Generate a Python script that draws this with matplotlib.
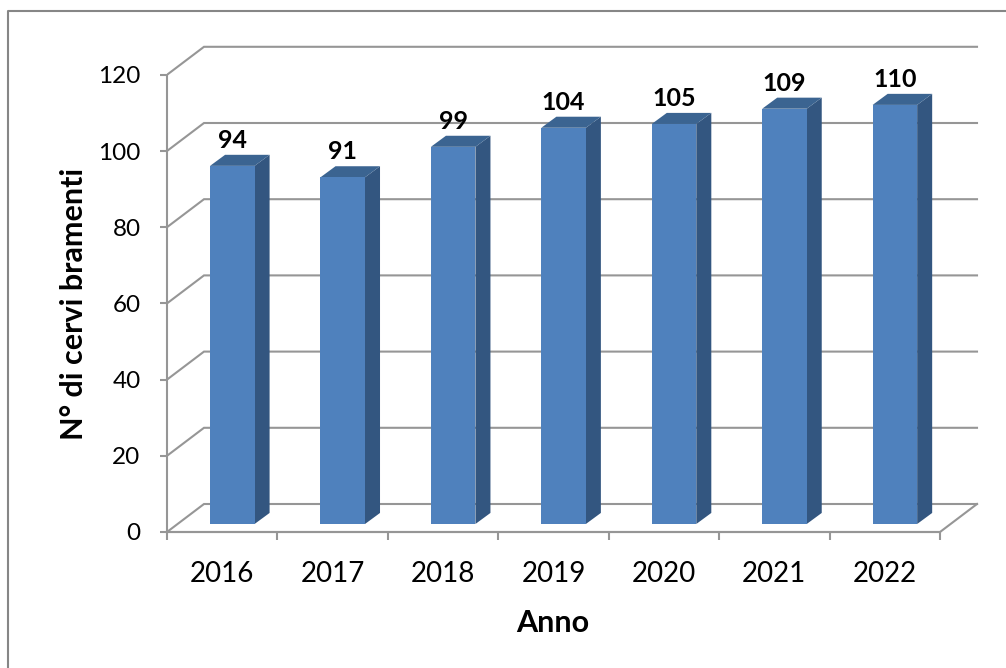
import matplotlib
matplotlib.use('Agg')
import matplotlib.pyplot as plt
from matplotlib.patches import Polygon
from matplotlib.lines import Line2D

plt.rcParams['font.family'] = ['Lato', 'DejaVu Sans']

anni = ['2016', '2017', '2018', '2019', '2020', '2021', '2022']
cervi = [94, 91, 99, 104, 105, 109, 110]
yticks = [0, 20, 40, 60, 80, 100, 120]

grey = '#969696'
# fake 3d, in data units
wall_dx, wall_dy = 0.335, 7.35
bar_x0, bar_w = 0.39, 0.403
bar_y0 = 2.1
side_dx, side_dy = 0.136, 2.9

fig = plt.figure(figsize=(10.06, 6.68), dpi=100)
W, H = 1006, 668
# outer frame of the chart
fig.add_artist(Line2D([8 / W, 8 / W, 1], [0, 1 - 11 / H, 1 - 11 / H], color='#868686', lw=1.5))

ax = fig.add_axes([167 / W, (H - 532) / H, (995 - 167) / W, (532 - 30) / H])
ax.set_xlim(0, (995 - 167) / 110.43)
ax.set_ylim(0, (532 - 30) / 3.81)
ax.patch.set_alpha(0)

for y in yticks:
    ax.plot([0, wall_dx, 7 + wall_dx], [y, y + wall_dy, y + wall_dy], color=grey, lw=1.5, zorder=1, solid_joinstyle='miter')
ax.plot([0, 7, 7 + wall_dx], [0, 0, wall_dy], color=grey, lw=1.5, zorder=1, clip_on=False)

for i, v in enumerate(cervi):
    x0 = i + bar_x0
    x1 = x0 + bar_w
    y0 = bar_y0
    y1 = y0 + v
    ax.add_patch(Polygon([(x1, y0), (x1 + side_dx, y0 + side_dy), (x1 + side_dx, y1 + side_dy), (x1, y1)],
                         fc='#335680', ec='none', zorder=2))
    ax.add_patch(Polygon([(x0, y1), (x0 + side_dx, y1 + side_dy), (x1 + side_dx, y1 + side_dy), (x1, y1)],
                         fc='#3B6491', ec='none', zorder=2))
    ax.add_patch(Polygon([(x0, y0), (x1, y0), (x1, y1), (x0, y1)], fc='#4F81BD', ec='none', zorder=3))
    ax.annotate(str(v), (x0 + bar_w / 2, y1), xytext=(0, 18.5), textcoords='offset points',
                ha='center', va='center', fontsize=18, fontweight='bold', color='black', zorder=4)

for s in ['top', 'right']:
    ax.spines[s].set_visible(False)
ax.spines['left'].set_bounds(0, 120)
ax.spines['bottom'].set_bounds(0, 7)
ax.spines['left'].set_color(grey)
ax.spines['bottom'].set_color(grey)
ax.spines['left'].set_linewidth(1.5)
ax.spines['bottom'].set_linewidth(1.5)

ax.set_yticks(yticks)
ax.tick_params(axis='y', length=5, width=1.5, color=grey, labelsize=17.5, pad=14)
ax.set_xticks(range(8))
ax.set_xticklabels([])
ax.set_xticks([i + 0.5 for i in range(7)], minor=True)
ax.set_xticklabels(anni, minor=True)
ax.tick_params(axis='x', which='major', length=6, width=1.5, color=grey)
ax.tick_params(axis='x', which='minor', length=0, labelsize=20, pad=21)

fig.text(553 / W, 1 - 623 / H, 'Anno', ha='center', va='center', fontsize=22, fontweight='bold')
fig.text(74 / W, 1 - 304 / H, 'N° di cervi bramenti', ha='center', va='center', rotation=90, fontsize=22, fontweight='bold')

fig.savefig('out.png', dpi=100)
